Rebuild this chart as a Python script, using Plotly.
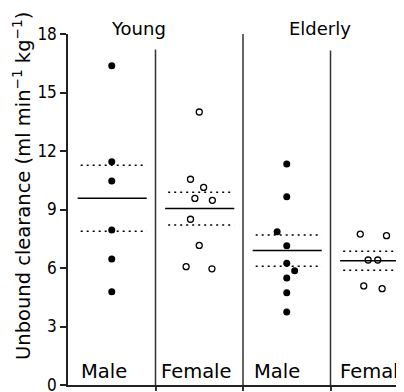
import plotly.graph_objects as go
import numpy as np

groups = ["Young Male", "Young Female", "Elderly Male", "Elderly Female"]
group_labels = ["Male", "Female", "Male", "Female"]
header_labels = ["Young", "Elderly"]
y_ticks = [0, 3, 6, 9, 12, 15, 18]

young_male = [16.37, 11.45, 10.46, 7.95, 6.46, 4.78]
young_male_dx = [0.0, 0.0, 0.0, 0.0, 0.0, 0.0]
young_female = [14.0, 10.55, 10.13, 9.57, 9.47, 8.50, 7.16, 6.07, 5.96]
young_female_dx = [0.0, -0.10, 0.05, -0.05, 0.15, -0.10, 0.0, -0.15, 0.145]
elderly_male = [11.33, 9.66, 7.86, 7.14, 6.24, 5.86, 5.49, 4.73, 3.74]
elderly_male_dx = [0.0, 0.0, -0.11, 0.0, 0.0, 0.09, 0.0, 0.0, 0.0]
elderly_female = [7.74, 7.66, 6.41, 6.41, 5.08, 4.94]
elderly_female_dx = [-0.16, 0.14, -0.07, 0.04, -0.12, 0.09]

data = [young_male, young_female, elderly_male, elderly_female]
offsets = [young_male_dx, young_female_dx, elderly_male_dx, elderly_female_dx]
filled = [True, False, True, False]

FONT = "DejaVu Sans"
W, H = 404, 392
OFF = 8  # page body margin in the browser
# plot area in window pixels
V_L, V_TOP, V_BOT = 68, 34, 385
L, T, B = V_L - OFF, V_TOP - OFF, H - (V_BOT - OFF)
PW = W - L
PH = V_BOT - V_TOP
CAT_PX = 87.5


def px_x(vx):
    return (vx - V_L) / PW


def px_y(vy):
    return (V_BOT - vy) / PH


fig = go.Figure()

for i, (vals, dx, fl) in enumerate(zip(data, offsets, filled)):
    c = i + 0.5
    xs = [c + d for d in dx]
    fig.add_trace(go.Scatter(
        x=xs, y=vals, mode="markers", cliponaxis=False, showlegend=False,
        marker=dict(symbol="circle", size=7 if fl else 6,
                    color="black" if fl else "white",
                    line=dict(color="black", width=0 if fl else 1.3))))
    arr = np.array(vals)
    m = arr.mean()
    sem = arr.std(ddof=1) / np.sqrt(len(arr))
    x0, x1 = c - 0.39, c + 0.40
    if i == 3:
        x1 = 4.2
    fig.add_trace(go.Scatter(x=[x0, x1], y=[m, m], mode="lines", showlegend=False,
                             line=dict(color="black", width=1.5), cliponaxis=True))
    for s in (m + sem, m - sem):
        fig.add_trace(go.Scatter(x=[x0 + 0.035, x1], y=[s, s], mode="lines", showlegend=False,
                                 line=dict(color="black", width=1.5, dash="2px,4px"),
                                 cliponaxis=True))

# dividers
div_tops = [17.2, 18.0, 17.15]
for k, top in zip([1, 2, 3], div_tops):
    fig.add_shape(type="line", xref="x", yref="y", x0=k, x1=k, y0=0, y1=top,
                  line=dict(color="#333", width=1.5))

# bottom group labels
label_x = [0.126, 1.04, 2.10, 3.086]
for lx, t in zip(label_x, group_labels):
    fig.add_annotation(x=lx, y=0.68, xref="x", yref="y", text=t, showarrow=False,
                       xanchor="left", yanchor="middle",
                       font=dict(family=FONT, size=19.5, color="black"))

# headers
for hx, t in zip([0.80, 2.88], header_labels):
    fig.add_annotation(x=hx, y=px_y(28), xref="x", yref="paper",
                       yanchor="middle", text=t, showarrow=False,
                       font=dict(family=FONT, size=18, color="black"))

fig.add_annotation(x=px_x(22), y=px_y(186), xref="paper", yref="paper",
                   text="Unbound clearance (ml min<sup>−1</sup> kg<sup>−1</sup>)",
                   textangle=-90, showarrow=False, xanchor="center", yanchor="middle",
                   font=dict(family=FONT, size=19.5, color="black"))

fig.update_layout(
    width=W, height=H,
    margin=dict(l=L, r=0, t=T, b=B, autoexpand=False),
    paper_bgcolor="white", plot_bgcolor="white",
    xaxis=dict(range=[0, PW / CAT_PX], showgrid=False, zeroline=False, showline=True,
               automargin=False, linecolor="#222", linewidth=1.5, tickvals=[1, 2, 3],
               ticktext=["", "", ""], ticks="outside", ticklen=4, tickcolor="#333",
               tickwidth=1.5, fixedrange=True),
    yaxis=dict(range=[0, 18], tickvals=y_ticks, showgrid=False, zeroline=False, automargin=False,
               showline=True, linecolor="#222", linewidth=1.5, ticks="outside",
               ticklen=6, tickwidth=1.5, tickcolor="#222",
               tickfont=dict(family="DejaVu Sans Condensed", size=17, color="black")),
)

fig.write_html("out.html")
